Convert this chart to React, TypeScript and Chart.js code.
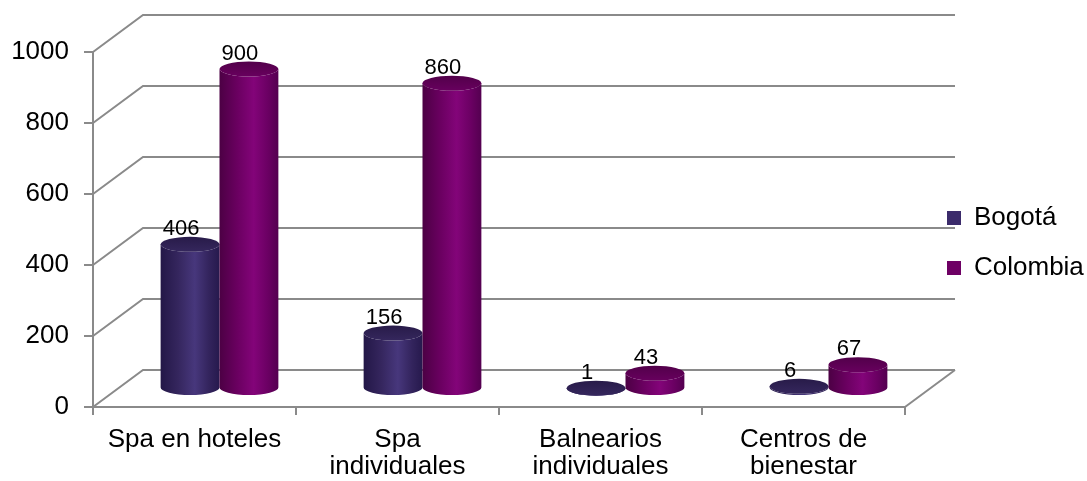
import React, { useEffect, useRef } from 'react';
import { Chart, registerables } from 'chart.js';

Chart.register(...registerables);

// ---- data ----
const categories: (string | string[])[] = [
  'Spa en hoteles',
  ['Spa', 'individuales'],
  ['Balnearios', 'individuales'],
  ['Centros de', 'bienestar'],
];
const seriesNames = ['Bogotá', 'Colombia'];
const bogotaValues = [406, 156, 1, 6];
const colombiaValues = [900, 860, 43, 67];
const yMin = 0;
const yMax = 1000;
const yStep = 200;

// ---- styling ----
const FONT = "'Liberation Sans', Arial, sans-serif";
const DX = 50;
const DY = -37;
const GRID = '#8a8a8a';
const ELLIPSE_RY = 7.5;

const legendColors = ['#3b2b6b', '#6e0064'];
const palettes = [
  {
    stops: [
      [0, '#231747'],
      [0.3, '#35265e'],
      [0.58, '#47377c'],
      [0.82, '#33245d'],
      [1, '#26194d'],
    ] as [number, string][],
    top: ['#281b49', '#35275d'],
  },
  {
    stops: [
      [0, '#4c0044'],
      [0.3, '#6a0060'],
      [0.58, '#830479'],
      [0.82, '#6b0063'],
      [1, '#540050'],
    ] as [number, string][],
    top: ['#52004a', '#68005e'],
  },
];

const threeD = {
  id: 'threeD',
  beforeDatasetsDraw(chart: any) {
    const { ctx, chartArea, scales } = chart;
    const y = scales.y;
    ctx.save();
    ctx.strokeStyle = GRID;
    ctx.lineWidth = 2;
    y.ticks.forEach((t: any) => {
      const py = y.getPixelForValue(t.value);
      ctx.beginPath();
      ctx.moveTo(chartArea.left, py);
      ctx.lineTo(chartArea.left + DX, py + DY);
      ctx.lineTo(chartArea.right + DX, py + DY);
      ctx.stroke();
    });
    ctx.beginPath();
    ctx.moveTo(chartArea.right, chartArea.bottom);
    ctx.lineTo(chartArea.right + DX, chartArea.bottom + DY);
    ctx.stroke();
    ctx.restore();
  },
  beforeDatasetDraw() {
    return false;
  },
  afterDatasetsDraw(chart: any) {
    const { ctx } = chart;
    ctx.save();
    chart.data.datasets.forEach((ds: any, i: number) => {
      const meta = chart.getDatasetMeta(i);
      const pal = palettes[i];
      meta.data.forEach((bar: any, j: number) => {
        const { x, y, base, width } = bar.getProps(['x', 'y', 'base', 'width'], true);
        const cx = x + DX / 2;
        const top = y + DY / 2;
        const bottom = base + DY / 2;
        const rx = width / 2;
        const ry = ELLIPSE_RY;
        const g = ctx.createLinearGradient(cx - rx, 0, cx + rx, 0);
        pal.stops.forEach(([o, c]) => g.addColorStop(o, c));
        ctx.beginPath();
        ctx.moveTo(cx - rx, top);
        ctx.lineTo(cx - rx, bottom);
        ctx.ellipse(cx, bottom, rx, ry, 0, Math.PI, 0, true);
        ctx.lineTo(cx + rx, top);
        ctx.ellipse(cx, top, rx, ry, 0, 0, Math.PI, false);
        ctx.closePath();
        ctx.fillStyle = g;
        ctx.fill();
        const tg = ctx.createLinearGradient(0, top - ry, 0, top + ry);
        tg.addColorStop(0, pal.top[0]);
        tg.addColorStop(1, pal.top[1]);
        ctx.beginPath();
        ctx.ellipse(cx, top, rx, ry, 0, 0, Math.PI * 2);
        ctx.fillStyle = tg;
        ctx.fill();

        ctx.fillStyle = '#000';
        ctx.font = `22px ${FONT}`;
        ctx.textAlign = 'center';
        ctx.textBaseline = 'alphabetic';
        ctx.fillText(String(ds.data[j]), cx - 9, top - ry - 2);
      });
    });
    ctx.restore();
  },
};

export default function App() {
  const ref = useRef<HTMLCanvasElement | null>(null);
  useEffect(() => {
    document.body.style.margin = '0';
    document.body.style.overflow = 'hidden';
    const canvas = ref.current;
    if (!canvas) return;
    const chart = new Chart(canvas, {
      type: 'bar',
      data: {
        labels: categories as any,
        datasets: [
          {
            label: seriesNames[0],
            data: bogotaValues,
            backgroundColor: legendColors[0],
            borderWidth: 0,
            categoryPercentage: 0.58,
            barPercentage: 1,
          },
          {
            label: seriesNames[1],
            data: colombiaValues,
            backgroundColor: legendColors[1],
            borderWidth: 0,
            categoryPercentage: 0.58,
            barPercentage: 1,
          },
        ],
      },
      options: {
        responsive: false,
        animation: false,
        devicePixelRatio: 1,
        layout: { padding: { top: 52, bottom: 0, left: 0, right: 0 } },
        plugins: {
          tooltip: { enabled: false },
          title: { display: false },
          legend: {
            display: true,
            position: 'right',
            align: 'start',
            maxWidth: 164,
            title: {
              display: true,
              text: '',
              font: { family: FONT, size: 10, lineHeight: 1.2 },
              padding: { top: 117, bottom: 0 },
            },
            labels: {
              color: '#000',
              font: { family: FONT, size: 26 },
              boxWidth: 14,
              boxHeight: 14,
              padding: 24,
            },
          },
        },
        scales: {
          x: {
            offset: true,
            grid: {
              offset: true,
              drawOnChartArea: false,
              drawTicks: true,
              tickLength: 8,
              color: GRID,
              lineWidth: 2,
            },
            border: { display: true, color: GRID, width: 2 },
            ticks: {
              color: '#000',
              font: { family: FONT, size: 26, lineHeight: 1.05 },
              padding: 11,
              maxRotation: 0,
              autoSkip: false,
            },
            afterFit(s: any) {
              s.height = 74;
            },
          },
          y: {
            min: yMin,
            max: yMax,
            grid: {
              drawOnChartArea: false,
              drawTicks: true,
              tickLength: 9,
              color: GRID,
              lineWidth: 2,
            },
            border: { display: true, color: GRID, width: 2 },
            ticks: {
              stepSize: yStep,
              color: '#000',
              font: { family: FONT, size: 26 },
              padding: 15,
              callback: (v: any) => String(v),
            },
            afterFit(s: any) {
              s.width = 93;
            },
          },
          yR: {
            type: 'linear',
            position: 'right',
            display: true,
            ticks: { display: false },
            grid: { display: false, drawTicks: false },
            border: { display: false },
            afterFit(s: any) {
              s.width = 18;
            },
          },
        },
      } as any,
      plugins: [threeD as any],
    });
    return () => chart.destroy();
  }, []);
  return (
    <div style={{ width: 1087, height: 481 }}>
      <canvas ref={ref} width={1087} height={481} style={{ display: 'block' }} />
    </div>
  );
}
